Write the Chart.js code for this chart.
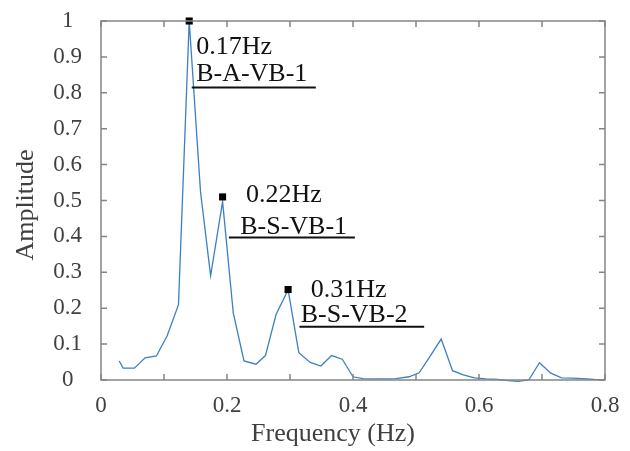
<!DOCTYPE html>
<html lang="en">
<head>
  <meta charset="UTF-8">
  <title>Amplitude spectrum</title>
  <script src="https://cdn.jsdelivr.net/npm/chart.js"></script>
  <style>
    html, body { margin: 0; padding: 0; background: #fff; }
    #wrap { width: 630px; height: 451px; }
  </style>
</head>
<body>
  <div id="wrap"><canvas id="spectrum"></canvas></div>
  <script>
    // values
    const freq = [0.029, 0.035, 0.053, 0.070, 0.088, 0.105, 0.123, 0.140, 0.158, 0.174,
                  0.193, 0.210, 0.227, 0.246, 0.261, 0.278, 0.297, 0.314, 0.332, 0.349,
                  0.366, 0.383, 0.400, 0.416, 0.433, 0.451, 0.468, 0.489, 0.505, 0.522,
                  0.540, 0.558, 0.575, 0.593, 0.611, 0.629, 0.646, 0.662, 0.679, 0.696,
                  0.714, 0.731, 0.748, 0.765, 0.783, 0.800];
    const amplitude = [0.053, 0.033, 0.033, 0.062, 0.067, 0.123, 0.21, 1.0, 0.524, 0.29,
                       0.497, 0.186, 0.053, 0.044, 0.068, 0.183, 0.251, 0.076, 0.049, 0.039,
                       0.068, 0.058, 0.009, 0.004, 0.003, 0.003, 0.004, 0.009, 0.020, 0.065,
                       0.114, 0.026, 0.014, 0.006, 0.003, 0.002, -0.002, -0.004, 0.0, 0.048,
                       0.019, 0.006, 0.005, 0.004, 0.002, 0.001];

    // marked peaks
    const peakFreq = [0.140, 0.193, 0.297];
    const peakAmp = [1.0, 0.51, 0.252];
    const peakLabel = ['0.17Hz', '0.22Hz', '0.31Hz'];
    const peakName = ['B-A-VB-1', 'B-S-VB-1', 'B-S-VB-2'];
    // where each label sits (data units): hz text, name text, underline
    const hzAt = [[0.151, 0.908], [0.230, 0.497], [0.333, 0.232]];
    const nameAt = [[0.151, 0.833], [0.221, 0.407], [0.317, 0.162]];
    const lineFrom = [[0.144, 0.815], [0.203, 0.397], [0.315, 0.148]];
    const lineTo = [0.341, 0.403, 0.513];

    const xTicks = [0, 0.2, 0.4, 0.6, 0.8];

    const serif = "'Liberation Serif', 'Times New Roman', serif";
    const axisGray = '#858585';
    const textGray = '#404040';

    function fmt(v) {
      return String(Math.round(v * 10) / 10);
    }

    // box, inward ticks, titles and peak labels
    const framePlugin = {
      id: 'framePlugin',
      afterDraw(chart) {
        const { ctx, chartArea: a, scales: { x, y } } = chart;
        ctx.save();
        ctx.strokeStyle = axisGray;
        ctx.lineWidth = 1.5;
        ctx.strokeRect(a.left, a.top, a.right - a.left, a.bottom - a.top);
        ctx.beginPath();
        x.ticks.forEach(t => {
          const px = x.getPixelForValue(t.value);
          ctx.moveTo(px, a.bottom); ctx.lineTo(px, a.bottom - 6);
          ctx.moveTo(px, a.top); ctx.lineTo(px, a.top + 6);
        });
        y.ticks.forEach(t => {
          const py = y.getPixelForValue(t.value);
          ctx.moveTo(a.left, py); ctx.lineTo(a.left + 6, py);
          ctx.moveTo(a.right, py); ctx.lineTo(a.right - 6, py);
        });
        ctx.stroke();

        // axis titles
        ctx.fillStyle = textGray;
        ctx.font = '26px ' + serif;
        ctx.textAlign = 'center';
        ctx.textBaseline = 'alphabetic';
        ctx.fillText('Frequency (Hz)', 333, 441);
        ctx.save();
        ctx.translate(33, 205);
        ctx.rotate(-Math.PI / 2);
        ctx.fillText('Amplitude', 0, 0);
        ctx.restore();

        // peak annotations
        ctx.fillStyle = '#111';
        ctx.strokeStyle = '#111';
        ctx.lineWidth = 2;
        ctx.textAlign = 'left';
        for (let i = 0; i < peakLabel.length; i++) {
          ctx.fillText(peakLabel[i], x.getPixelForValue(hzAt[i][0]), y.getPixelForValue(hzAt[i][1]));
          ctx.fillText(peakName[i], x.getPixelForValue(nameAt[i][0]), y.getPixelForValue(nameAt[i][1]));
          const ly = y.getPixelForValue(lineFrom[i][1]);
          ctx.beginPath();
          ctx.moveTo(x.getPixelForValue(lineFrom[i][0]), ly);
          ctx.lineTo(x.getPixelForValue(lineTo[i]), ly);
          ctx.stroke();
        }
        ctx.restore();
      }
    };

    new Chart(document.getElementById('spectrum'), {
      type: 'scatter',
      data: {
        datasets: [{
          data: freq.map((f, i) => ({ x: f, y: amplitude[i] })),
          showLine: true,
          borderColor: '#3c80c3',
          borderWidth: 1.3,
          pointRadius: 0,
          tension: 0,
          clip: false,
          order: 2
        }, {
          data: peakFreq.map((f, i) => ({ x: f, y: peakAmp[i] })),
          pointStyle: 'rect',
          pointRadius: 5,
          backgroundColor: '#000',
          borderColor: '#000',
          borderWidth: 0,
          clip: false,
          order: 1
        }]
      },
      options: {
        responsive: true,
        maintainAspectRatio: false,
        animation: false,
        events: [],
        layout: { padding: { top: 21, right: 25, left: 0, bottom: 0 } },
        plugins: { legend: { display: false }, tooltip: { enabled: false } },
        scales: {
          x: {
            type: 'linear',
            min: 0,
            max: 0.8,
            grid: { display: false, drawTicks: false },
            border: { display: false },
            afterFit: s => { s.height = 71; s.paddingLeft = 0; s.paddingRight = 0; },
            ticks: {
              stepSize: 0.1,
              padding: 12,
              color: textGray,
              font: { family: serif, size: 23 },
              maxRotation: 0,
              autoSkip: false,
              callback: v => xTicks.some(t => Math.abs(t - v) < 1e-6) ? fmt(v) : ''
            }
          },
          y: {
            min: 0,
            max: 1,
            grid: { display: false, drawTicks: false },
            border: { display: false },
            afterFit: s => { s.width = 101; s.paddingTop = 0; s.paddingBottom = 0; },
            ticks: {
              stepSize: 0.1,
              padding: 19,
              crossAlign: 'center',
              color: textGray,
              font: { family: serif, size: 23 },
              callback: v => fmt(v)
            }
          }
        }
      },
      plugins: [framePlugin]
    });
  </script>
</body>
</html>
